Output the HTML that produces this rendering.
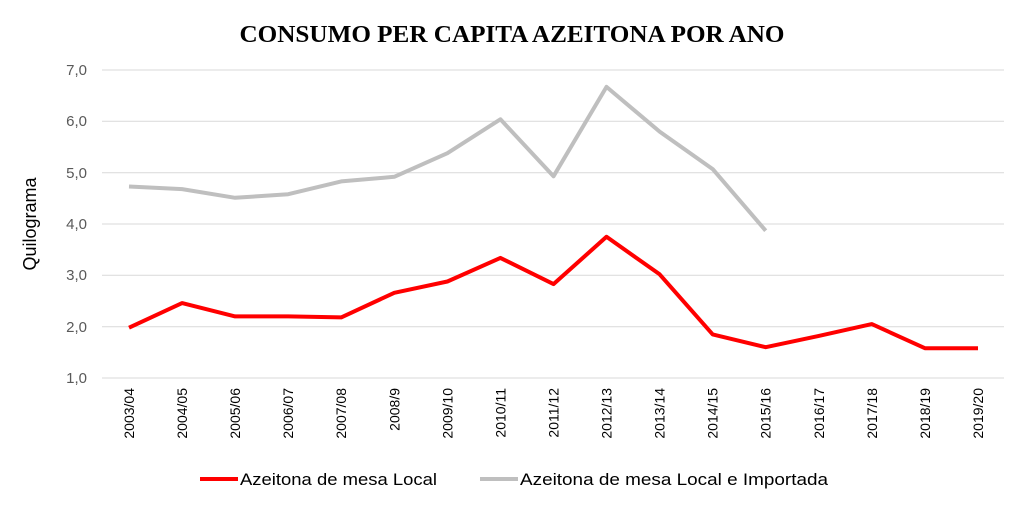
<!DOCTYPE html>
<html><head><meta charset="utf-8"><style>
html,body{margin:0;padding:0;background:#fff;}
svg{display:block;}
</style></head><body>
<svg width="1024" height="508" xmlns="http://www.w3.org/2000/svg">
<text x="512" y="42" text-anchor="middle" font-family="Liberation Serif, serif" font-weight="bold" font-size="24" textLength="545" lengthAdjust="spacingAndGlyphs" fill="#000">CONSUMO PER CAPITA AZEITONA POR ANO</text>
<g stroke="#d9d9d9" stroke-width="1">
<line x1="102" x2="1004" y1="70" y2="70"/>
<line x1="102" x2="1004" y1="121.3" y2="121.3"/>
<line x1="102" x2="1004" y1="172.7" y2="172.7"/>
<line x1="102" x2="1004" y1="224" y2="224"/>
<line x1="102" x2="1004" y1="275.3" y2="275.3"/>
<line x1="102" x2="1004" y1="326.7" y2="326.7"/>
<line x1="102" x2="1004" y1="378" y2="378"/>
</g>
<g font-family="Liberation Sans, sans-serif" font-size="15" fill="#595959" text-anchor="end">
<text x="87" y="75">7,0</text><text x="87" y="126">6,0</text><text x="87" y="178">5,0</text><text x="87" y="229">4,0</text><text x="87" y="280">3,0</text><text x="87" y="332">2,0</text><text x="87" y="383">1,0</text>
</g>
<text transform="translate(36,224) rotate(-90)" text-anchor="middle" font-family="Liberation Sans, sans-serif" font-size="18" fill="#000">Quilograma</text>
<g font-family="Liberation Sans, sans-serif" font-size="14" fill="#000" text-anchor="end">
<text transform="translate(134,388) rotate(-90)">2003/04</text>
<text transform="translate(187.1,388) rotate(-90)">2004/05</text>
<text transform="translate(240.1,388) rotate(-90)">2005/06</text>
<text transform="translate(293.2,388) rotate(-90)">2006/07</text>
<text transform="translate(346.2,388) rotate(-90)">2007/08</text>
<text transform="translate(399.3,388) rotate(-90)">2008/9</text>
<text transform="translate(452.4,388) rotate(-90)">2009/10</text>
<text transform="translate(505.4,388) rotate(-90)">2010/11</text>
<text transform="translate(558.5,388) rotate(-90)">2011/12</text>
<text transform="translate(611.5,388) rotate(-90)">2012/13</text>
<text transform="translate(664.6,388) rotate(-90)">2013/14</text>
<text transform="translate(717.7,388) rotate(-90)">2014/15</text>
<text transform="translate(770.7,388) rotate(-90)">2015/16</text>
<text transform="translate(823.8,388) rotate(-90)">2016/17</text>
<text transform="translate(876.8,388) rotate(-90)">2017/18</text>
<text transform="translate(929.9,388) rotate(-90)">2018/19</text>
<text transform="translate(983,388) rotate(-90)">2019/20</text>
</g>
<polyline fill="none" stroke="#bfbfbf" stroke-width="4" stroke-linejoin="round" points="129,186.5 182.1,189.1 235.1,197.8 288.2,194.2 341.2,181.4 394.3,176.8 447.4,153.2 500.4,119.3 553.5,176.3 606.5,86.9 659.6,131.6 712.7,169.1 765.7,230.7"/>
<polyline fill="none" stroke="#ff0000" stroke-width="4" stroke-linejoin="round" points="129,327.7 182.1,303.1 235.1,316.4 288.2,316.4 341.2,317.4 394.3,292.8 447.4,281.5 500.4,257.9 553.5,284.1 606.5,236.8 659.6,274.3 712.7,334.4 765.7,347.2 818.8,335.9 871.8,324.1 924.9,348.2 978,348.2"/>
<line x1="200" x2="238" y1="479" y2="479" stroke="#ff0000" stroke-width="4"/>
<text x="240" y="485" font-family="Liberation Sans, sans-serif" font-size="17" textLength="197" lengthAdjust="spacingAndGlyphs" fill="#000">Azeitona de mesa Local</text>
<line x1="480" x2="518" y1="479" y2="479" stroke="#bfbfbf" stroke-width="4"/>
<text x="520" y="485" font-family="Liberation Sans, sans-serif" font-size="17" textLength="308" lengthAdjust="spacingAndGlyphs" fill="#000">Azeitona de mesa Local e Importada</text>
</svg>
</body></html>
